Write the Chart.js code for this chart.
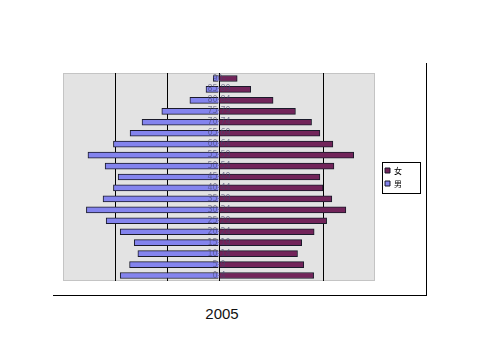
<!DOCTYPE html>
<html>
<head>
<meta charset="utf-8">
<script src="https://cdn.jsdelivr.net/npm/chart.js@4/dist/chart.umd.min.js"></script>
<style>
    body { margin: 0; background: #fff; width: 480px; height: 360px; overflow: hidden; }
    #frame {
        position: absolute;
        left: 53px;
        top: 63px;
        width: 373px;
        height: 232px;
        border-right: 1px solid #000;
        border-bottom: 1px solid #000;
    }
    #year {
        position: absolute;
        left: 172px;
        width: 100px;
        top: 305px;
        text-align: center;
        font-family: "Liberation Sans", Arial, sans-serif;
        font-size: 15px;
        color: #111;
    }
</style>
</head>
<body>
<div id="frame"><canvas id="chart" width="373" height="232"></canvas></div>
<div id="year">2005</div>
<script>
"use strict";

// age groups, youngest first (drawn bottom to top)
let AGES = [
    "0-4", "5-9", "10-14", "15-19", "20-24", "25-29", "30-34",
    "35-39", "40-44", "45-49", "50-54", "55-59", "60-64", "65-69",
    "70-74", "75-79", "80-84", "85-89", "90-"
];

let FEMALE = [
    1.82, 1.63, 1.51, 1.59, 1.83, 2.07, 2.44, 2.17, 2.00, 1.94,
    2.21, 2.59, 2.19, 1.94, 1.78, 1.47, 1.04, 0.61, 0.35
];

let MALE = [
    1.90, 1.72, 1.56, 1.63, 1.90, 2.17, 2.55, 2.23, 2.03, 1.94,
    2.19, 2.52, 2.03, 1.71, 1.48, 1.10, 0.56, 0.25, 0.11
];

let SERIES = ["女", "男"];

// only these gridlines show in the original
let GRID_AT = [-2, -1, 0, 2];

let plotBackground = {
    id: "plotBackground",
    beforeDraw: function(chart) {
        let a = chart.chartArea;
        let ctx = chart.ctx;
        ctx.save();
        ctx.fillStyle = "#e3e3e3";
        ctx.fillRect(a.left, a.top, a.right - a.left, a.bottom - a.top);
        ctx.strokeStyle = "#c4c4c4";
        ctx.lineWidth = 1;
        ctx.strokeRect(a.left + 0.5, a.top + 0.5, a.right - a.left - 1, a.bottom - a.top - 1);
        ctx.restore();
    }
};

// category labels sit on the centre axis, over the bars
let centreLabels = {
    id: "centreLabels",
    afterDatasetsDraw: function(chart) {
        let x = chart.scales.x.getPixelForValue(0);
        let y = chart.scales.y;
        let ctx = chart.ctx;
        ctx.save();
        ctx.font = "8px 'DejaVu Sans', sans-serif";
        ctx.fillStyle = "rgba(70, 70, 110, 0.65)";
        ctx.textAlign = "center";
        ctx.textBaseline = "middle";
        for (let i = 0; i < AGES.length; ++i) {
            ctx.fillText(AGES[i], x, y.getPixelForValue(i));
        }
        ctx.restore();
    }
};

let legendBox = {
    id: "legendBox",
    afterDraw: function(chart) {
        let lg = chart.legend;
        if (!lg || !lg.legendHitBoxes.length) return;
        let boxes = lg.legendHitBoxes;
        let left = boxes[0].left - 3;
        let top = boxes[0].top - 5;
        let last = boxes[boxes.length - 1];
        let ctx = chart.ctx;
        ctx.save();
        ctx.strokeStyle = "#000";
        ctx.lineWidth = 1;
        ctx.strokeRect(Math.round(left) + 0.5, Math.round(top) + 0.5, 38, Math.round(last.top + last.height - top + 5));
        ctx.restore();
    }
};

let chart = new Chart(document.getElementById("chart"), {
    type: "bar",
    plugins: [plotBackground, centreLabels, legendBox],
    data: {
        labels: AGES,
        datasets: [{
            label: SERIES[0],
            data: FEMALE,
            backgroundColor: "#72245a",
            borderColor: "#1a1a2a",
            borderWidth: 1,
            barThickness: 6
        }, {
            label: SERIES[1],
            data: MALE.map(function(v) { return -v; }),
            backgroundColor: "#8484ee",
            borderColor: "#1a1a2a",
            borderWidth: 1,
            barThickness: 6
        }]
    },
    options: {
        indexAxis: "y",
        responsive: false,
        animation: false,
        layout: {
            padding: { left: 10, top: 10, bottom: 14, right: 14 }
        },
        plugins: {
            legend: {
                position: "right",
                labels: {
                    boxWidth: 5,
                    boxHeight: 5,
                    padding: 5,
                    color: "#000",
                    font: { size: 8, family: "'Noto Sans CJK SC', sans-serif" }
                }
            },
            tooltip: { enabled: false }
        },
        scales: {
            x: {
                stacked: true,
                min: -3,
                max: 3,
                ticks: { stepSize: 1, display: false },
                border: { display: false },
                grid: {
                    drawTicks: false,
                    lineWidth: 1,
                    color: function(c) {
                        return GRID_AT.indexOf(c.tick.value) >= 0 ? "#000" : "rgba(0,0,0,0)";
                    }
                }
            },
            y: {
                stacked: true,
                reverse: true,
                ticks: { display: false },
                border: { display: false },
                grid: { display: false, drawTicks: false }
            },
            // empty spacer between plot and legend
            gap: {
                type: "linear",
                axis: "y",
                position: "right",
                ticks: { display: false },
                border: { display: false },
                grid: { display: false, drawTicks: false },
                afterFit: function(scale) { scale.width = 5; }
            }
        }
    }
});
</script>
</body>
</html>
